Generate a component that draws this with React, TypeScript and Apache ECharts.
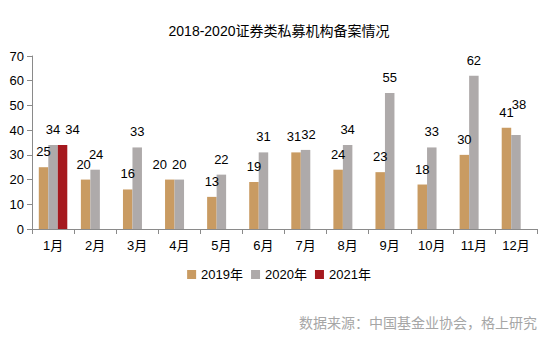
import React, { useEffect, useRef } from "react";
import * as echarts from "echarts";

const months = ["1月", "2月", "3月", "4月", "5月", "6月", "7月", "8月", "9月", "10月", "11月", "12月"];
const s2019 = [25, 20, 16, 20, 13, 19, 31, 24, 23, 18, 30, 41];
const s2020 = [34, 24, 33, 20, 22, 31, 32, 34, 55, 33, 62, 38];
const s2021: (number | null)[] = [34, null, null, null, null, null, null, null, null, null, null, null];
const seriesNames = ["2019年", "2020年", "2021年"];
const colors = ["#C99B62", "#AEAAAA", "#A5191E"];

const FONT = "'Liberation Sans', 'Noto Sans CJK SC', sans-serif";

// label nudges (index -> [dx, dy]) per series
const labelNudge: Record<number, Record<number, [number, number]>> = {
  0: { 1: [-2, 0], 3: [-10, 0], 6: [-2, 0] },
  1: { 1: [1, 0], 6: [3, 0], 11: [3, -15] },
  2: { 0: [10, 0] },
};

function build(values: (number | null)[], si: number) {
  return values.map((v, i) => {
    const n = labelNudge[si][i];
    if (n && v != null) return { value: v, label: { offset: n } };
    return v;
  });
}

export default function App() {
  const ref = useRef<HTMLDivElement>(null);
  useEffect(() => {
    if (!ref.current) return;
    const chart = echarts.init(ref.current, null, { renderer: "svg" });
    const label = {
      show: true,
      position: "top",
      distance: 9,
      color: "#000",
      fontSize: 13,
      fontFamily: FONT,
    };
    chart.setOption({
      animation: false,
      backgroundColor: "#fff",
      textStyle: { fontFamily: FONT },
      title: {
        text: "2018-2020证券类私募机构备案情况",
        left: "center",
        top: 19,
        textStyle: { fontSize: 14, fontWeight: "normal", color: "#000", fontFamily: FONT },
      },
      legend: {
        data: seriesNames,
        bottom: 54,
        left: "center",
        itemWidth: 9,
        itemHeight: 9,
        itemGap: 8,
        icon: "rect",
        textStyle: { fontSize: 13, color: "#000", fontFamily: FONT },
      },
      grid: { left: 32, right: 21, top: 56, bottom: 111, containLabel: false },
      xAxis: {
        type: "category",
        data: months,
        axisLine: { lineStyle: { color: "#8a8a8a" } },
        axisTick: { show: true, length: 5, lineStyle: { color: "#8a8a8a" } },
        axisLabel: { color: "#000", fontSize: 13, margin: 10, fontFamily: FONT },
      },
      yAxis: {
        type: "value",
        min: 0,
        max: 70,
        interval: 10,
        axisLine: { show: true, lineStyle: { color: "#8a8a8a" } },
        axisTick: { show: true, length: 5, lineStyle: { color: "#8a8a8a" } },
        splitLine: { show: false },
        axisLabel: { color: "#000", fontSize: 13, margin: 8, fontFamily: FONT },
      },
      series: [
        { name: seriesNames[0], type: "bar", data: build(s2019, 0), barWidth: 9.5, barGap: "0%", itemStyle: { color: colors[0] }, label },
        { name: seriesNames[1], type: "bar", data: build(s2020, 1), barWidth: 9.5, barGap: "0%", itemStyle: { color: colors[1] }, label },
        { name: seriesNames[2], type: "bar", data: build(s2021, 2), barWidth: 9.5, barGap: "0%", itemStyle: { color: colors[2] }, label },
      ],
      graphic: [
        {
          type: "text",
          right: 21,
          top: 316,
          style: {
            text: "数据来源：中国基金业协会，格上研究",
            fill: "#a6a6a6",
            fontSize: 14,
            fontFamily: FONT,
          },
        },
      ],
    });
    return () => chart.dispose();
  }, []);
  return <div ref={ref} style={{ width: 558, height: 340, position: "absolute", left: 0, top: 0 }} />;
}
